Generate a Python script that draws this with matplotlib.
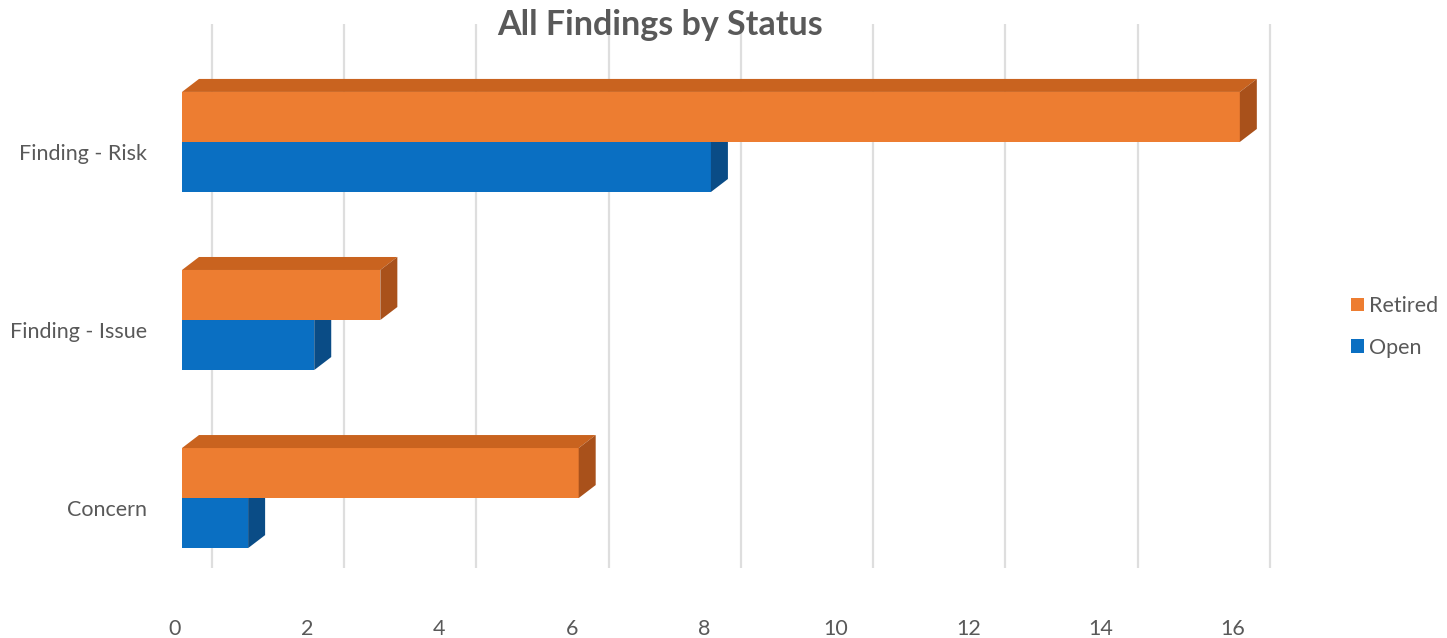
import matplotlib
matplotlib.use('Agg')
import matplotlib.pyplot as plt
from matplotlib.patches import Polygon, Patch
from matplotlib.transforms import ScaledTranslation

plt.rcParams['font.family'] = ['Lato', 'DejaVu Sans']

# Data
categories = ['Concern', 'Finding - Issue', 'Finding - Risk']
retired = [6, 3, 16]
open_ = [1, 2, 8]
x_ticks = [0, 2, 4, 6, 8, 10, 12, 14, 16]

# Colours: front face, top face, side face
orange = ('#ED7D31', '#C9631F', '#A9511B')
blue = ('#0A6FC2', '#0A5AA0', '#0A4C86')
text_grey = '#595959'

fig = plt.figure(figsize=(14.47, 6.38), dpi=100)
W, H = 1447, 638
ax = fig.add_axes([182 / W, 68 / H, 1157 / W, 550 / H])
ax.set_xlim(0, 17.5)
ax.set_ylim(-0.404, 2.685)
for s in ax.spines.values():
    s.set_visible(False)

bar_h = 0.281
# depth of the 3D extrusion, in data units
px_x = 1157 / 17.5
px_y = 550 / (2.685 + 0.404)
dx = 17 / px_x
dy = 13 / px_y
grid_shift = 30 / px_x

# back-wall gridlines
for t in x_ticks:
    ax.plot([t + grid_shift, t + grid_shift], [-0.39, 2.66], color='#dedede',
            lw=1.6, zorder=0, solid_capstyle='butt')


def bar3d(y0, value, colors, z):
    front, top, side = colors
    ax.add_patch(Polygon([(0, y0), (value, y0), (value, y0 + bar_h), (0, y0 + bar_h)],
                         closed=True, facecolor=front, edgecolor='none', zorder=z))
    ax.add_patch(Polygon([(0, y0 + bar_h), (value, y0 + bar_h),
                          (value + dx, y0 + bar_h + dy), (dx, y0 + bar_h + dy)],
                         closed=True, facecolor=top, edgecolor='none', zorder=z))
    ax.add_patch(Polygon([(value, y0), (value + dx, y0 + dy),
                          (value + dx, y0 + bar_h + dy), (value, y0 + bar_h)],
                         closed=True, facecolor=side, edgecolor='none', zorder=z))


for i in range(len(categories)):
    bar3d(i - bar_h, open_[i], blue, 2 + i * 2)
    bar3d(i, retired[i], orange, 3 + i * 2)

# axis labels
ax.set_yticks(range(len(categories)))
ax.set_yticklabels(categories, fontsize=15.5, color=text_grey)
ax.set_xticks(x_ticks)
ax.set_xticklabels([str(t) for t in x_ticks], fontsize=15.5, color=text_grey)
ax.tick_params(axis='both', length=0)
ax.tick_params(axis='y', pad=25)
ax.tick_params(axis='x', pad=35)
for lab in ax.get_yticklabels():
    lab.set_transform(lab.get_transform() + ScaledTranslation(0, -10 / 100, fig.dpi_scale_trans))
for lab in ax.get_xticklabels():
    lab.set_transform(lab.get_transform() + ScaledTranslation(-7 / 100, 0, fig.dpi_scale_trans))

fig.text(660 / W, 1 - 25 / H, 'All Findings by Status', ha='center', va='center',
         fontsize=24.5, fontweight='bold', color=text_grey)

handles = [Patch(facecolor=orange[0], label='Retired'),
           Patch(facecolor=blue[0], label='Open')]
fig.legend(handles=handles, loc='center left', bbox_to_anchor=(1332 / W, 1 - 327 / H),
           frameon=False, fontsize=15.5, labelcolor=text_grey, handlelength=0.6,
           handleheight=0.6, handletextpad=0.2, labelspacing=1.0)

fig.savefig('out.png', dpi=100, facecolor='white')
